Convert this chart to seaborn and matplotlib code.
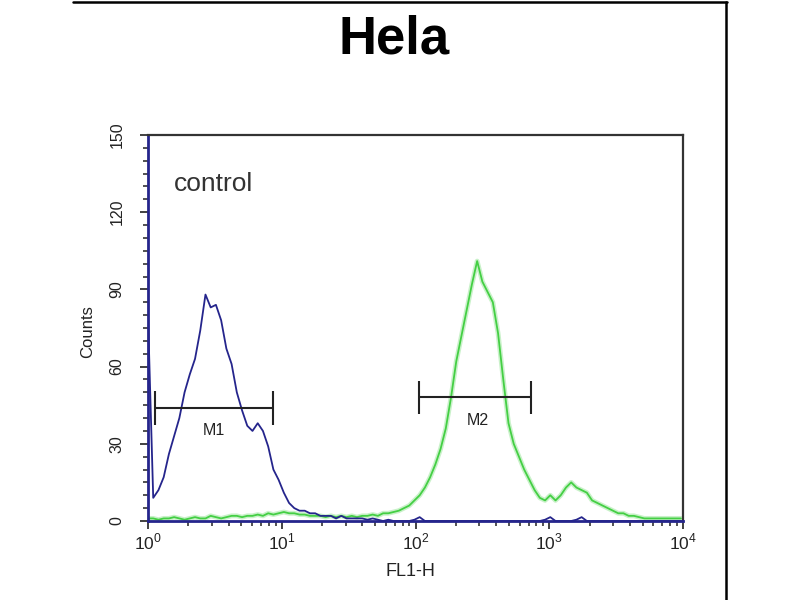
import numpy as np
import pandas as pd
import matplotlib.pyplot as plt
from matplotlib.lines import Line2D
from matplotlib.ticker import LogLocator, MultipleLocator, FixedFormatter, FixedLocator
import seaborn as sns

# FL1-H channels (1024 channels over 4 decades), sampled every 10 channels
channel = np.arange(0, 1024, 10)
fl1 = 10 ** (channel / 256.0)

control_counts = [
    80, 9, 12, 17, 26, 33, 40, 50, 57, 63,
    74, 88, 83, 84, 78, 67, 61, 50, 43, 37,
    35, 38, 35, 29, 20, 16, 11, 7, 5, 4,
    4, 3, 3, 2, 2, 2, 1, 2, 1, 1,
    1, 1, 0.5, 1, 0.5, 0, 0.5, 0, 0, 0,
    0, 0.5, 1.5, 0, 0, 0, 0, 0, 0, 0,
    0, 0, 0, 0, 0, 0, 0, 0, 0, 0,
    0, 0, 0, 0, 0, 0, 0.5, 1.5, 0, 0,
    0, 0, 0.5, 1.5, 0, 0, 0, 0, 0, 0,
    0, 0, 0, 0, 0, 0, 0, 0, 0, 0,
    0, 0, 0,
]
sample_counts = [
    1, 1, 0.5, 1, 1, 1.5, 1, 0.5, 1, 1.5,
    1, 1, 2, 1.5, 1, 1.5, 2, 2, 1.5, 2,
    2, 2.5, 2, 3, 2.5, 3, 3.5, 3, 3, 2.5,
    2.5, 2, 2, 2, 1.5, 2, 1.5, 2, 1.5, 2,
    1.5, 2, 2, 2.5, 2, 3, 3, 3.5, 4, 5,
    6, 8, 10, 13, 17, 22, 28, 36, 48, 62,
    72, 82, 92, 101, 93, 89, 85, 73, 55, 38,
    30, 25, 20, 16, 12, 9, 8, 10, 8, 10,
    13, 15, 13, 12, 11, 8, 7, 6, 5, 4,
    3, 3, 2, 2, 1.5, 1, 1, 1, 1, 1,
    1, 1, 1,
]

# gate markers
gate_names = ["M1", "M2"]
gate_low = [1.13, 106]
gate_high = [8.6, 731]
gate_level = [44, 48]
gate_label_x = [3.1, 293]
gate_label_y = [35, 39]

df = pd.DataFrame({
    "FL1-H": np.concatenate([fl1, fl1]),
    "Counts": control_counts + sample_counts,
    "series": ["control"] * len(fl1) + ["sample"] * len(fl1),
})

sns.set_theme(style="white")
plt.rcParams["font.family"] = ["Liberation Sans", "DejaVu Sans"]
plt.rcParams["mathtext.fontset"] = "custom"
plt.rcParams["mathtext.rm"] = "Liberation Sans"

fig = plt.figure(figsize=(8, 6), dpi=100)
ax = fig.add_axes([148 / 800, 79 / 600, 535 / 800, 386 / 600])

blue = "#25258c"
green = "#44cf44"

# soft halo under the green trace like the scanned original
ax.plot(fl1, sample_counts, color="#b2ecb2", lw=3.5, alpha=0.7, zorder=1)
sns.lineplot(data=df, x="FL1-H", y="Counts", hue="series",
             palette={"control": blue, "sample": green},
             hue_order=["sample", "control"],
             linewidth=1.3, legend=False, ax=ax, zorder=2)

ax.set_xscale("log")
ax.set_xlim(1, 1e4)
ax.set_ylim(0, 150)

# gates
for name, lo, hi, lev, lx, ly in zip(gate_names, gate_low, gate_high,
                                      gate_level, gate_label_x, gate_label_y):
    ax.hlines(lev, lo, hi, color="#222222", lw=1.5, zorder=3)
    ax.vlines([lo, hi], lev - 6.5, lev + 6.5, color="#222222", lw=1.5, zorder=3)
    ax.text(lx, ly, name, ha="center", va="center", fontsize=11.5, color="#222222")

ax.text(1.55, 131, "control", ha="left", va="center", fontsize=19, color="#333333")

# ticks
ax.xaxis.set_major_locator(FixedLocator([1, 10, 100, 1000, 10000]))
ax.xaxis.set_major_formatter(FixedFormatter(
    [r"$10^{0}$", r"$10^{1}$", r"$10^{2}$", r"$10^{3}$", r"$10^{4}$"]))
ax.xaxis.set_minor_locator(LogLocator(base=10, subs=np.arange(2, 10), numticks=20))
ax.yaxis.set_major_locator(MultipleLocator(30))
ax.yaxis.set_minor_locator(MultipleLocator(5))
ax.tick_params(axis="both", which="major", direction="out", length=5.8, width=1.3,
               color="#333333", labelcolor="#222222",
               bottom=True, left=True)
ax.tick_params(axis="both", which="minor", direction="out", length=3.6, width=1.2,
               color="#333333", bottom=True, left=True)
ax.tick_params(axis="x", labelsize=12.5, pad=2)
ax.tick_params(axis="y", labelsize=11.5, labelrotation=90, pad=11)
for lab in ax.get_yticklabels():
    lab.set_va("center")

ax.set_xlabel("FL1-H", fontsize=13, color="#222222")
ax.set_ylabel("Counts", fontsize=12, color="#222222")
ax.xaxis.set_label_coords(0.49, -0.109)
ax.yaxis.set_label_coords(-0.099, 0.49)

for side in ["top", "right"]:
    ax.spines[side].set_color("#333333")
    ax.spines[side].set_linewidth(1.6)
for side in ["left", "bottom"]:
    ax.spines[side].set_color(blue)
    ax.spines[side].set_linewidth(2.0)

fig.text(0.492, 1 - 53 / 600, "Hela", ha="center", va="baseline",
         fontsize=38, fontweight="bold", color="black")

# outer frame pieces of the original panel
fig.add_artist(Line2D([73 / 800, 727 / 800], [0.997, 0.997],
                      transform=fig.transFigure, color="black", lw=1.8))
fig.add_artist(Line2D([726 / 800, 726 / 800], [0, 0.997],
                      transform=fig.transFigure, color="black", lw=1.8))

fig.savefig("out.png", dpi=100, facecolor="white")
